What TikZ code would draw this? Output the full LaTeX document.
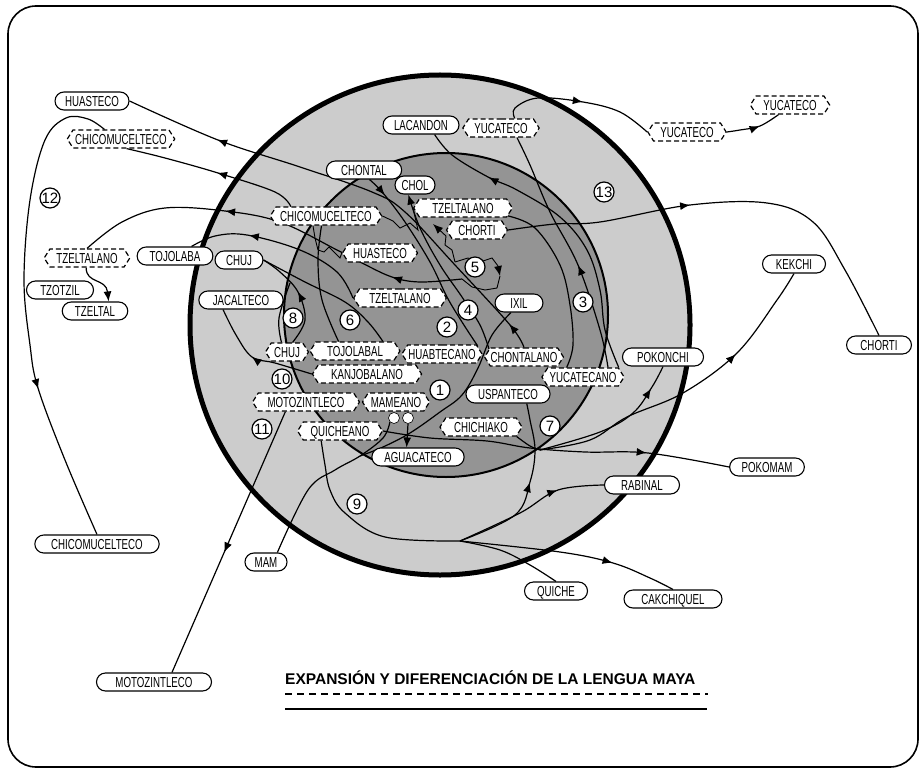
\documentclass[tikz,border=0pt]{standalone}
\usepackage{fontspec}
\setmainfont{Liberation Sans}
\newfontfamily\lblfont[FakeStretch=0.67]{Liberation Sans}
\usetikzlibrary{shapes.symbols,decorations.markings,arrows.meta}
\pgfdeclarelayer{bgl}
\pgfdeclarelayer{lines}
\pgfsetlayers{bgl,lines,main}
\definecolor{lightg}{gray}{0.80}
\definecolor{darkg}{gray}{0.58}
\tikzset{
  lblfnt/.style={font=\lblfont\fontsize{14.5}{15}\selectfont},
  sl/.style={lblfnt,draw,line width=1.1pt,fill=white,rounded corners=9pt,text height=10.4pt,text depth=0pt,inner ysep=3.8pt,inner xsep=12pt},
  dl/.style={lblfnt,draw,line width=1.2pt,dash pattern=on 5pt off 3pt,fill=white,signal,signal to=east and west,signal pointer angle=115,text height=10.4pt,text depth=0pt,inner ysep=3.8pt,inner xsep=5pt},
  num/.style={circle,draw,line width=1.2pt,fill=white,minimum size=20pt,inner sep=0pt,font=\fontsize{15}{15}\selectfont},
  wc/.style={circle,draw,line width=0.6pt,fill=white,minimum size=11pt,inner sep=0pt},
  con/.style={line width=1.2pt},
  jag/.style={line width=0.9pt},
  arr/.style={postaction={decorate,decoration={markings,mark=at position #1 with {\arrow{Latex[length=10pt,width=8pt]}}}}},
  endarr/.style={-{Latex[length=10pt,width=8pt]}},
  sm/.style={smooth,tension=0.6},
}
\begin{document}
\begin{tikzpicture}[x=1pt,y=-1pt]
\useasboundingbox (0,0) rectangle (923,770);
\begin{pgfonlayer}{bgl}
\draw[line width=1.6pt,rounded corners=28pt] (8,6) rectangle (918,767);
\fill[lightg] (440,325) circle[radius=250];
\fill[darkg] (446,315) circle[radius=162];
\draw[line width=2pt] (446,315) circle[radius=162];
\draw[line width=5pt] (440,325) circle[radius=250];
\end{pgfonlayer}

% solid labels
\node[sl,inner xsep=10pt] (HUAo) at (92,101) {HUASTECO};
\node[sl,inner xsep=12.6pt] (TOJo) at (175,256) {TOJOLABA};
\node[sl,inner xsep=11pt] (CHUJo) at (239,260) {CHUJ};
\node[sl,inner xsep=13.8pt] (TZOT) at (60,290) {TZOTZIL};
\node[sl,inner xsep=12.7pt] (TZEL) at (95,311) {TZELTAL};
\node[sl,inner xsep=13.9pt] (JAC) at (241,300) {JACALTECO};
\node[sl,inner xsep=16.4pt] (CHIs) at (97,544) {CHICOMUCELTECO};
\node[sl,inner xsep=19pt] (MOTo) at (154,682) {MOTOZINTLECO};
\node[sl,inner xsep=9.7pt] (MAM) at (266,562) {MAM};
\node[sl,inner xsep=12.6pt] (QUI) at (556,591) {QUICHE};
\node[sl,inner xsep=17.4pt] (CAK) at (673,599) {CAKCHIQUEL};
\node[sl,inner xsep=16.7pt] (RAB) at (642,485) {RABINAL};
\node[sl,inner xsep=12pt] (POKM) at (767,467) {POKOMAM};
\node[sl,inner xsep=14.6pt] (POKN) at (663,357) {POKONCHI};
\node[sl,inner xsep=13.9pt] (CHORo) at (879,345) {CHORTI};
\node[sl,inner xsep=13.4pt] (KEK) at (794,264) {KEKCHI};
\node[sl,inner xsep=11pt] (LAC) at (421,125) {LACANDON};
\node[sl,inner xsep=14.8pt] (CHONT) at (364,170) {CHONTAL};
\node[sl,inner xsep=6.5pt] (CHOL) at (415,185) {CHOL};
\node[sl,inner xsep=15.3pt] (IXIL) at (519,303) {IXIL};
\node[sl,inner xsep=12.2pt] (USP) at (508,394) {USPANTECO};
\node[sl,inner xsep=12.5pt] (AGU) at (418,457) {AGUACATECO};

% dashed labels
\node[dl,inner xsep=2.2pt] (CHIo) at (121,139) {CHICOMUCELTECO};
\node[dl,inner xsep=6.5pt] (TZo) at (87,258) {TZELTALANO};
\node[dl,inner xsep=6.8pt] (YUCm) at (687,132) {YUCATECO};
\node[dl,inner xsep=7.3pt] (YUCf) at (790,105) {YUCATECO};
\node[dl,inner xsep=5.8pt] (YUCi) at (501,128) {YUCATECO};
\node[dl,inner xsep=13pt] (TZi) at (463,208) {TZELTALANO};
\node[dl,inner xsep=6.2pt] (CHORd) at (477,230) {CHORTI};
\node[dl,inner xsep=4.2pt] (CHIi) at (326,216) {CHICOMUCELTECO};
\node[dl,inner xsep=4.8pt] (HUAd) at (380,253) {HUASTECO};
\node[dl,inner xsep=10pt] (TZl) at (400,298) {TZELTALANO};
\node[dl,inner xsep=11.2pt] (TOJd) at (355,351) {TOJOLABAL};
\node[dl,inner xsep=2.8pt] (CHUJd) at (287,352) {CHUJ};
\node[dl,inner xsep=0.6pt] (HUAB) at (442,354) {HUABTECANO};
\node[dl,inner xsep=0.3pt] (CHOT) at (524,357) {CHONTALANO};
\node[dl,inner xsep=2pt] (YUCA) at (583,377) {YUCATECANO};
\node[dl,inner xsep=12.9pt] (KAN) at (367,374) {KANJOBALANO};
\node[dl,inner xsep=9.2pt] (MOTd) at (306,402) {MOTOZINTLECO};
\node[dl,inner xsep=2.7pt] (MAMd) at (396,402) {MAMEANO};
\node[dl,inner xsep=7.3pt] (QUId) at (340,431) {QUICHEANO};
\node[dl,inner xsep=8.3pt] (CHIC) at (481,427) {CHICHIAKO};

% small white circles
\node[wc] (cA) at (394,418) {};
\node[wc] (cB) at (408,418) {};

% numbers
\node[num] (n1) at (440,390) {1};
\node[num] (n2) at (447,327) {2};
\node[num] (n3) at (583,302) {3};
\node[num] (n4) at (468,310) {4};
\node[num] (n5) at (475,267) {5};
\node[num] (n6) at (350,320) {6};
\node[num] (n7) at (550,426) {7};
\node[num] (n8) at (293,318) {8};
\node[num] (n9) at (357,504) {9};
\node[num] (n10) at (282,379) {10};
\node[num] (n11) at (262,429) {11};
\node[num] (n12) at (50,198) {12};
\node[num] (n13) at (604,192) {13};

\coordinate (hub) at (460,541);
\coordinate (j7) at (540,450);
\coordinate (c4s) at (462,279);

% title
\node[anchor=base west,font=\bfseries\fontsize{15.5}{16}\selectfont,inner sep=0pt] (title) at (285,684) {EXPANSIÓN Y DIFERENCIACIÓN DE LA LENGUA MAYA};
\draw[line width=2pt,dash pattern=on 7pt off 5pt] (285,694) -- (708,694);
\draw[line width=1.2pt] (285,709) -- (707,709);

\begin{pgfonlayer}{lines}
\draw[con,arr=0.058,arr=0.80] plot[sm] coordinates {(CHOT.north) (510,325) (455,265) (405,212) (372,192) (300,167) (218,140) (HUAo.east)};
\draw[con,arr=0.47] plot[sm] coordinates {(CHIi.165) (275,192) (218,173) (165,158) (CHIo.-60)};
\draw[con,arr=0.675] plot[sm] coordinates {(CHIo.150) (88,119) (66,118) (45,140) (30,200) (24,280) (30,345) (38,388) (65,460) (CHIs.north)};
\draw[con,arr=0.176,arr=0.627] plot[sm] coordinates {(c4s) (420,282) (392,277) (362,263) (337,250) (280,222) (225,211) (165,208) (122,222) (TZo.north)};
\draw[con,endarr] (TZo.-95) .. controls (86,284) and (106,278) .. (TZEL.35);
\draw[con,arr=0.68] plot[sm] coordinates {(TZl.west) (337,272) (300,250) (247,235) (215,236) (TOJo.30)};
\draw[con,arr=0.54] plot[sm] coordinates {(CHUJd.60) (305,320) (298,292) (280,272) (CHUJo.east)};
\draw[con] plot[sm] coordinates {(CHUJd.120) (279,318) (290,283)};
\draw[con,arr=0.53] plot[sm] coordinates {(KAN.west) (275,363) (252,357) (236,335) (JAC.208)};
\draw[con,arr=0.54] (MOTd.205) -- (MOTo.28);
\draw[con] plot[sm] coordinates {(cA.south west) (383,438) (360,456) (335,470) (308,490) (MAM.40)};
\draw[con] plot[sm] coordinates {(IXIL.-130) (492,335) (478,368) (462,395) (440,412) (410,433) (383,447) (360,456)};
\draw[con,endarr] (cB.south) -- (AGU.140);
\draw[con] plot[sm] coordinates {(QUId.207) (325,465) (330,490) (345,513) (385,537) (hub)};
\draw[con] plot[sm] coordinates {(hub) (500,550) (530,565) (QUI.north)};
\draw[con,arr=0.70] plot[sm] coordinates {(hub) (560,552) (613,563) (650,578) (CAK.north)};
\draw[con,arr=0.70] plot[sm] coordinates {(hub) (520,513) (558,490) (RAB.west)};
\draw[con,arr=0.55] plot[sm] coordinates {(hub) (515,515) (530,482) (535,450) (530,420) (USP.-27)};
\draw[con,arr=0.76] plot[sm] coordinates {(QUId.east) (430,438) (487,441) (530,448) (585,452) (648,453) (POKM.west)};
\draw[con] plot[sm] coordinates {(CHIC.-15) (530,446) (j7)};
\draw[con,arr=0.84] plot[sm] coordinates {(j7) (600,432) (633,413) (652,387) (POKN.south)};
\draw[con,arr=0.69] plot[sm] coordinates {(j7) (590,440) (627,417) (683,393) (737,353) (777,300) (KEK.south)};
\draw[con,arr=0.415] plot[sm] coordinates {(CHORd.east) (555,224) (600,222) (690,205) (767,203) (813,222) (845,270) (CHORo.north)};
\draw[con,arr=0.53] plot[sm] coordinates {(YUCi.35) (515,108) (538,98) (583,102) (620,112) (YUCm.west)};
\draw[con,arr=0.6] plot[sm] coordinates {(YUCm.east) (740,130) (760,126) (YUCf.220)};
\draw[con,arr=0.43] plot[sm] coordinates {(YUCA.21) (600,330) (578,265) (550,212) (530,165) (YUCi.-31)};
\draw[con,arr=0.78] plot[sm] coordinates {(YUCA.15) (605,330) (600,290) (587,250) (560,217) (517,190) (488,177) (452,155) (LAC.-35)};
\draw[con] plot[sm] coordinates {(TZi.-10) (535,228) (560,265) (570,305) (573,345) (YUCA.150)};
\draw[con,arr=0.11] plot[sm] coordinates {(CHONT.-60) (383,193) (405,222) (430,262) (447,297) (462,322) (HUAB.13)};
\draw[con,endarr] plot[sm] coordinates {(CHOT.167) (480,325) (462,297) (440,265) (420,228) (CHOL.-125)};
\draw[con] plot[sm] coordinates {(CHUJo.east) (305,282) (345,302) (368,322) (TOJd.19)};
\draw[con] plot[sm] coordinates {(CHIi.-115) (318,260) (322,300) (TOJd.150)};
\draw[jag] (CHIi.east) -- (393,221) -- (400,228) -- (410,223) -- (418,230) -- (TZi.west);
\draw[jag] (313,226) -- (315,238) -- (318,250) -- (324,252) -- (329,247) -- (334,252) -- (340,258) -- (HUAd.west);
\draw[jag,endarr] (455,262) -- (468,258) -- (480,262) -- (492,258) -- (498,266) -- (500,276);
\draw[jag,endarr] (455,262) -- (452,250) -- (445,245) -- (446,236) -- (433,224);
\draw[jag] (500,276) -- (497,288) -- (485,290) -- (472,287) -- (c4s);
\end{pgfonlayer}
\end{tikzpicture}
\end{document}
